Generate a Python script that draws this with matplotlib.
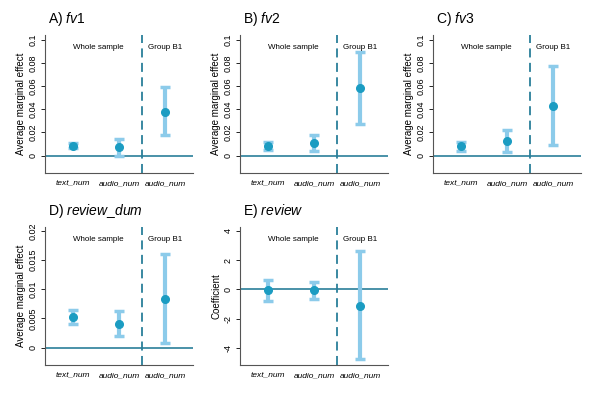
import matplotlib
matplotlib.use("Agg")
import matplotlib.pyplot as plt
from matplotlib.ticker import FuncFormatter
import numpy as np

plt.rcParams['font.family'] = ['Liberation Sans', 'DejaVu Sans']
plt.rcParams['mathtext.fontset'] = 'custom'
plt.rcParams['mathtext.it'] = 'Liberation Sans:italic'
plt.rcParams['mathtext.rm'] = 'Liberation Sans'

# data
cats = ["text_num", "audio_num", "audio_num"]
titles = ["fv1", "fv2", "fv3", "review\\_dum", "review"]
letters = ["A", "B", "C", "D", "E"]
ylabels = ["Average marginal effect"] * 4 + ["Coefficient"]

est = [[0.0086, 0.0071, 0.038],
       [0.0083, 0.011, 0.058],
       [0.0083, 0.0126, 0.0426],
       [0.0052, 0.0041, 0.0084],
       [-0.05, -0.05, -1.1]]
lo = [[0.0066, 0.0, 0.0177],
      [0.0051, 0.0043, 0.027],
      [0.0037, 0.0034, 0.0091],
      [0.0041, 0.0020, 0.0007],
      [-0.80, -0.64, -4.75]]
hi = [[0.011, 0.0146, 0.059],
      [0.0114, 0.018, 0.089],
      [0.012, 0.0217, 0.0769],
      [0.0064, 0.0063, 0.0161],
      [0.66, 0.53, 2.63]]

yticks = [[0, 0.02, 0.04, 0.06, 0.08, 0.1]] * 3 + [[0, 0.005, 0.01, 0.015, 0.02], [-4, -2, 0, 2, 4]]
ylims = [(-0.015, 0.104)] * 3 + [(-0.003, 0.0207), (-5.14, 4.25)]

pt_col = "#1b9cc2"
bar_col = "#8ccbea"
line_col = "#2a7f9a"

fig = plt.figure(figsize=(6, 4), dpi=100)
lefts = [45, 240, 433, 45, 240]
bottoms = [173, 173, 173, 365, 365]
w, h = 148, 138

for i in range(5):
    ax = fig.add_axes([lefts[i] / 600, (400 - bottoms[i]) / 400, w / 600, h / 400])
    x = np.arange(1, 4)
    e = np.array(est[i])
    err = [e - np.array(lo[i]), np.array(hi[i]) - e]
    ax.axhline(0, color=line_col, lw=1.2, zorder=1)
    ax.axvline(2.5, color=line_col, lw=1.3, ls=(0, (5, 3)), zorder=1)
    ax.errorbar(x, e, yerr=err, fmt="none", ecolor=bar_col, elinewidth=3,
                capsize=3.5, capthick=2.5, zorder=2)
    ax.plot(x, e, "o", color=pt_col, ms=5.5, zorder=3)
    ax.set_xlim(0.39, 3.61)
    ax.set_ylim(*ylims[i])
    ax.set_xticks(x)
    ax.set_xticklabels(cats, style="italic", fontsize=6)
    ax.tick_params(axis="x", length=0, pad=5)
    ax.set_yticks(yticks[i])
    ax.yaxis.set_major_formatter(FuncFormatter(lambda v, p: "%g" % v))
    ax.tick_params(axis="y", labelsize=6.5, labelrotation=90, length=3, width=0.6, pad=2)
    for lab in ax.get_yticklabels():
        lab.set_va("center")
    ax.spines["top"].set_visible(False)
    ax.spines["right"].set_visible(False)
    ax.spines["left"].set_color("#555555")
    ax.spines["bottom"].set_color("#555555")
    ax.set_ylabel(ylabels[i], fontsize=7, labelpad=2)
    ax.text(1.55, 0.91, "Whole sample", transform=ax.get_xaxis_transform(),
            ha="center", va="center", fontsize=5.8)
    ax.text(3.0, 0.91, "Group B1", transform=ax.get_xaxis_transform(),
            ha="center", va="center", fontsize=5.8)
    ax.text(0.02, 1.05, letters[i] + r") $\it{" + titles[i] + "}$",
            transform=ax.transAxes, fontsize=10, ha="left", va="bottom")

fig.savefig("out.png", dpi=100)
